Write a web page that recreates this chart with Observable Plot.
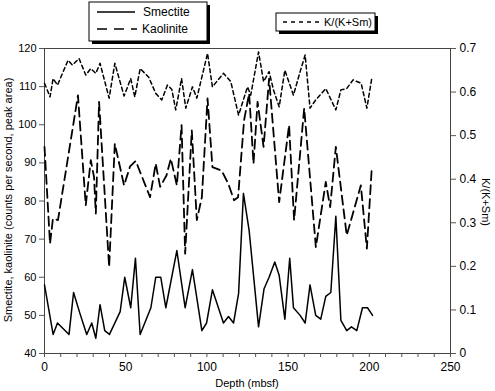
<!DOCTYPE html>
<html>
<head>
<meta charset="utf-8">
<script src="https://cdn.jsdelivr.net/npm/d3@7"></script>
<script src="https://cdn.jsdelivr.net/npm/@observablehq/plot@0.6"></script>
<style>
  html, body { margin: 0; padding: 0; background: #fff; }
  #chart { width: 495px; height: 391px; }
</style>
</head>
<body>
<div id="chart"></div>
<script>
// Smectite (counts per second, peak area) vs depth (mbsf)
const smectiteDepth = [0,5.3,8,15.1,17.9,21.9,26,29.1,31.6,34.2,37.1,40,46.6,49.4,53.1,56,58.9,65.5,68.5,71.6,74.7,81.5,86.6,91.1,96.9,99.8,103.4,110.2,113.3,116.4,119.5,122.5,126,131.8,135.2,138.3,141.8,144.5,148,151,153.3,157.4,160.5,163.5,167,170.1,173.2,176.3,179.4,182.5,186.1,189,192.3,195.8,198.9,202];
const smectiteValue = [58,45,48,45,56,50.4,45,48,44,52.8,46,45,51,60,52,65,45,52,60,60,52,67,52,62,46,48,56.7,48,49.7,48,55.7,82,72.3,47,57,60,64,60.5,49,65,52,50,48,58,50,49,55,56,76,48.7,46,47,46,52,52,50];

// Kaolinite (counts per second, peak area) vs depth (mbsf)
const kaoliniteDepth = [0,3.4,5.2,8.3,20.6,25.4,28.5,30.5,31.6,33.6,39.8,43.3,49,52.7,56.2,65,68.5,71.2,75.1,77.8,81.5,84.4,86.6,90.7,93.8,96.9,100.4,103.4,109,113.1,116.7,119.2,122.9,126,128.7,131.2,134.9,138.3,144.5,150.6,153.7,159.9,167.1,173.2,175.9,179.4,186.1,194.8,198.5,201.5];
const kaoliniteValue = [94.2,68.8,75.4,75,107.7,78.9,90.7,86.3,76.7,106,62.7,95,84.1,89.1,90.5,81,89.8,83.7,86.7,91.1,84.1,99.9,66.2,98.5,75,81,106.9,88.9,88,84.6,80.2,81,101.2,108.2,89.8,106,94.2,112.1,79.7,99.9,75,104.3,67.9,85,78.4,94.2,71,84.1,67.5,88.5];

// K/(K+Sm) vs depth (mbsf)
const ratioDepth = [0,3.4,5.3,8,14.5,17.2,21.3,25.4,28.5,31.6,34.2,39.8,43.3,49,53.1,55.6,58.9,64.2,68.5,72.2,75.7,78.4,80.8,84.4,87,91.1,93.8,100.4,103.4,110.2,114.7,119.5,125,127,131.8,134.9,138.3,141,144.5,148,153.3,157.4,160.5,163.5,167,173.2,179.4,182.5,186.1,190,195,198.5,201.5];
const ratioValue = [0.62,0.589,0.631,0.616,0.673,0.662,0.677,0.639,0.654,0.643,0.666,0.586,0.666,0.591,0.631,0.589,0.654,0.634,0.597,0.582,0.616,0.606,0.559,0.631,0.563,0.612,0.586,0.689,0.612,0.643,0.624,0.547,0.612,0.593,0.692,0.624,0.647,0.605,0.566,0.65,0.593,0.647,0.685,0.563,0.582,0.608,0.559,0.605,0.608,0.628,0.62,0.563,0.631];

// Axis ticks
const xTicks = d3.range(0, 251, 10);
const xTickLabels = [0, 50, 100, 150, 200, 250];
const yTicks = [40, 50, 60, 70, 80, 90, 100, 110, 120];
const ratioTicks = [0, 0.1, 0.2, 0.3, 0.4, 0.5, 0.6, 0.7];

// Left scale 40..120 shares the frame with the right scale 0..0.7
const yMin = 40, yMax = 120, rMax = 0.7;
const toLeft = r => yMin + (r / rMax) * (yMax - yMin);

const smectite = smectiteDepth.map((d, i) => ({depth: d, value: smectiteValue[i]}));
const kaolinite = kaoliniteDepth.map((d, i) => ({depth: d, value: kaoliniteValue[i]}));
const ratio = ratioDepth.map((d, i) => ({depth: d, value: ratioValue[i]}));

const plot = Plot.plot({
  width: 495,
  height: 391,
  marginTop: 48,
  marginLeft: 44,
  marginRight: 45,
  marginBottom: 38,
  style: {fontFamily: "'Liberation Sans', Arial, sans-serif", fontSize: "11px", background: "#fff", color: "#000"},
  x: {domain: [0, 250]},
  y: {domain: [yMin, yMax]},
  marks: [
    Plot.frame({stroke: "#444", strokeWidth: 1}),
    Plot.axisX({ticks: xTicks, tickSize: 4, tickFormat: d => xTickLabels.includes(d) ? String(d) : "", tickPadding: 5, label: null, stroke: "#555", fontSize: 12}),
    Plot.axisY({ticks: yTicks, tickSize: 5, tickPadding: 3, label: null, stroke: "#555", fontSize: 11}),
    Plot.axisY({anchor: "right", ticks: ratioTicks.map(toLeft), tickSize: 5, tickPadding: 4, label: null, stroke: "#555", fontSize: 12,
      tickFormat: v => { const r = Math.round((v - yMin) / (yMax - yMin) * rMax * 10) / 10; return r === 0 ? "0" : String(r); }}),
    Plot.line(ratio, {x: "depth", y: d => toLeft(d.value), stroke: "#000", strokeWidth: 1.5, strokeDasharray: "4,3"}),
    Plot.line(kaolinite, {x: "depth", y: "value", stroke: "#000", strokeWidth: 1.8, strokeDasharray: "9,5"}),
    Plot.line(smectite, {x: "depth", y: "value", stroke: "#000", strokeWidth: 1.5})
  ]
});

document.getElementById("chart").appendChild(plot);

const svg = d3.select(plot);
const font = "'Liberation Sans', Arial, sans-serif";

// Axis titles
svg.append("text").attr("x", 247).attr("y", 387).attr("text-anchor", "middle")
  .attr("font-family", font).attr("font-size", 11).text("Depth (mbsf)");
svg.append("text").attr("transform", "translate(12,200) rotate(-90)").attr("text-anchor", "middle")
  .attr("font-family", font).attr("font-size", 11).text("Smectite, kaolinite (counts per second, peak area)");
svg.append("text").attr("transform", "translate(482,202) rotate(90)").attr("text-anchor", "middle")
  .attr("font-family", font).attr("font-size", 11).text("K/(K+Sm)");

// Legend boxes with drop shadows
function box(x, y, w, h) {
  svg.append("rect").attr("x", x + 3).attr("y", y + 3).attr("width", w).attr("height", h).attr("fill", "#000");
  svg.append("rect").attr("x", x).attr("y", y).attr("width", w).attr("height", h).attr("fill", "#fff").attr("stroke", "#000").attr("stroke-width", 1);
}
function label(x, y, s, size) {
  svg.append("text").attr("x", x).attr("y", y).attr("text-anchor", "start")
    .attr("font-family", font).attr("font-size", size).text(s);
}
box(89, 2, 118, 39);
svg.append("line").attr("x1", 97).attr("x2", 135).attr("y1", 12).attr("y2", 12).attr("stroke", "#000").attr("stroke-width", 1.3);
label(143, 16, "Smectite", 12);
svg.append("line").attr("x1", 97).attr("x2", 137).attr("y1", 29).attr("y2", 29).attr("stroke", "#000").attr("stroke-width", 1.3).attr("stroke-dasharray", "10,7");
label(142, 33, "Kaolinite", 12);

box(276, 13, 99, 18);
svg.append("line").attr("x1", 283).attr("x2", 321).attr("y1", 22).attr("y2", 22).attr("stroke", "#000").attr("stroke-width", 1.3).attr("stroke-dasharray", "4,4");
label(324, 26, "K/(K+Sm)", 11);
</script>
</body>
</html>
